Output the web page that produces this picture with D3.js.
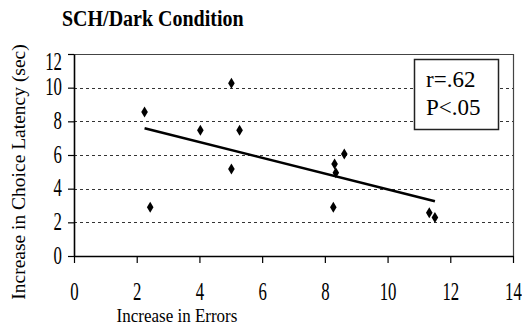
<!DOCTYPE html>
<html>
<head>
<meta charset="utf-8">
<script src="https://cdn.jsdelivr.net/npm/d3@7/dist/d3.min.js"></script>
<style>
  html, body { margin: 0; padding: 0; background: #fff; }
  svg { display: block; }
</style>
</head>
<body>
<svg id="chart" width="522" height="325"></svg>
<script>
// Per-subject change scores
const errors  = [2.25, 2.43, 4.03, 5.02, 5.02, 5.28, 8.27, 8.31, 8.35, 8.62, 11.33, 11.51];
const latency = [8.56, 2.89, 7.47, 10.26, 5.17, 7.47, 2.89, 5.47, 4.95, 6.06, 2.57, 2.28];

const xTicks = [0, 2, 4, 6, 8, 10, 12, 14];
const yTicks = [0, 2, 4, 6, 8, 10, 12];
const statLines = ["r=.62", "P<.05"];

const SERIF = "'Liberation Serif', 'Times New Roman', Times, serif";

const svg = d3.select("#chart");
const m = { left: 74, right: 9, top: 54, bottom: 69 };
const W = 522, H = 325;

const x = d3.scaleLinear().domain([0, 14]).range([m.left, W - m.right]);
const y = d3.scaleLinear().domain([0, 12]).range([H - m.bottom, m.top]);

// Title
svg.append("text")
  .attr("transform", "translate(62,26) scale(1,1.12)")
  .style("font-family", SERIF)
  .style("font-size", "20px")
  .style("font-weight", "bold")
  .text("SCH/Dark Condition");

// Dashed horizontal gridlines
svg.append("g").selectAll("line")
  .data(yTicks.filter(t => t > 0 && t < 12))
  .join("line")
  .attr("x1", x(0)).attr("x2", x(14))
  .attr("y1", d => Math.round(y(d)) + 0.5).attr("y2", d => Math.round(y(d)) + 0.5)
  .attr("stroke", "#333").attr("stroke-width", 1)
  .attr("stroke-dasharray", "3,3");

// Plot frame: top and right edges
svg.append("path")
  .attr("d", `M${x(0)},${y(12) + 0.5}H${x(14) + 0.5}V${y(0)}`)
  .attr("fill", "none").attr("stroke", "#444").attr("stroke-width", 1.2);

// Axes
const xAxis = svg.append("g")
  .attr("transform", `translate(0,${y(0)})`)
  .call(d3.axisBottom(x).tickValues(xTicks).tickSize(7).tickSizeOuter(0).tickFormat(d3.format("d")));
const yAxis = svg.append("g")
  .attr("transform", `translate(${x(0)},0)`)
  .call(d3.axisLeft(y).tickValues(yTicks).tickSize(6).tickSizeOuter(0).tickFormat(d3.format("d")));

[xAxis, yAxis].forEach(g => {
  g.attr("font-family", null).attr("font-size", null);
  g.select(".domain").attr("stroke", "#000").attr("stroke-width", 1.6);
  g.selectAll(".tick line").attr("stroke", "#000").attr("stroke-width", 1.2);
  g.selectAll(".tick text")
    .style("font-family", SERIF)
    .style("font-size", "21px")
    .attr("fill", "#000");
});

xAxis.selectAll(".tick text")
  .attr("y", 0).attr("dy", 0)
  .attr("transform", "translate(0,44) scale(0.8,1.15)");

yAxis.selectAll(".tick text")
  .attr("x", 0).attr("dy", 0)
  .attr("transform", d => {
    // keep the top label inside the frame
    const off = d === 12 ? 15 : 7;
    return `translate(-12,${off}) scale(0.8,1.15)`;
  });

// Axis titles
svg.append("text")
  .attr("transform", `translate(25,172) rotate(-90)`)
  .attr("text-anchor", "middle")
  .style("font-family", SERIF)
  .style("font-size", "19.5px")
  .text("Increase in Choice Latency (sec)");

svg.append("text")
  .attr("transform", `translate(177,322) scale(1,1.1)`)
  .attr("text-anchor", "middle")
  .style("font-family", SERIF)
  .style("font-size", "17px")
  .text("Increase in Errors");

// Least-squares trend line over the range of the data
const mx = d3.mean(errors), my = d3.mean(latency);
const sxy = d3.sum(errors, (e, i) => (e - mx) * (latency[i] - my));
const sxx = d3.sum(errors, e => (e - mx) ** 2);
const slope = sxy / sxx, intercept = my - slope * mx;
const [x0, x1] = d3.extent(errors);
svg.append("path")
  .datum([x0, x1])
  .attr("d", d3.line().x(d => x(d)).y(d => y(intercept + slope * d)))
  .attr("fill", "none").attr("stroke", "#000").attr("stroke-width", 2.6);

// Diamond markers
const pts = errors.map((e, i) => ({ e, l: latency[i] }));
svg.append("g").selectAll("path")
  .data(pts)
  .join("path")
  .attr("transform", d => `translate(${x(d.e)},${y(d.l)})`)
  .attr("d", "M0,-5.5L3.3,0L0,5.5L-3.3,0Z")
  .attr("fill", "#000");

// Correlation box
const box = svg.append("g");
box.append("rect")
  .attr("x", 414.5).attr("y", 59.5).attr("width", 84).attr("height", 70)
  .attr("fill", "#fff").attr("stroke", "#222").attr("stroke-width", 1.5);
box.selectAll("text")
  .data(statLines)
  .join("text")
  .attr("x", 426).attr("y", (d, i) => 87 + i * 28)
  .style("font-family", SERIF)
  .style("font-size", "23px")
  .text(d => d);
</script>
</body>
</html>
